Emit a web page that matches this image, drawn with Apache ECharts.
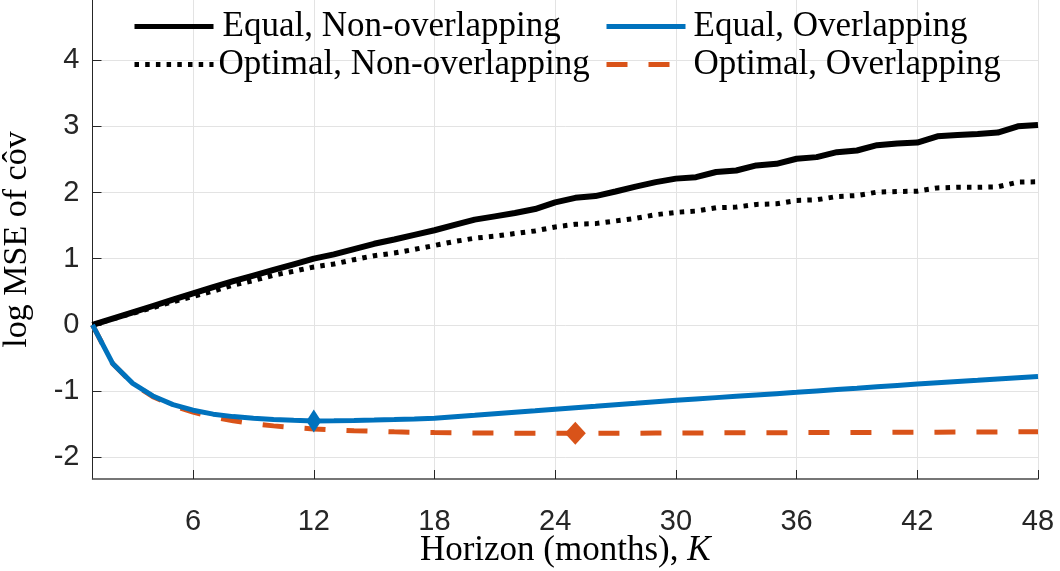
<!DOCTYPE html>
<html>
<head>
<meta charset="utf-8">
<script src="https://cdn.jsdelivr.net/npm/echarts@6/dist/echarts.min.js"></script>
<style>html,body{margin:0;padding:0;background:#fff;}#c{width:1060px;height:571px;}</style>
</head>
<body>
<div id="c"></div>
<script>
// ---- data ----
const horizons = [1,2,3,4,5,6,7,8,9,10,11,12,13,14,15,16,17,18,19,20,21,22,23,24,25,26,27,28,29,30,31,32,33,34,35,36,37,38,39,40,41,42,43,44,45,46,47,48];
const equalNonOverlap = [0,0.095,0.19,0.285,0.38,0.475,0.57,0.66,0.745,0.83,0.915,1.0,1.065,1.145,1.225,1.29,1.36,1.43,1.51,1.59,1.64,1.69,1.75,1.85,1.92,1.946,2.016,2.09,2.157,2.21,2.232,2.31,2.333,2.41,2.434,2.51,2.535,2.61,2.635,2.715,2.74,2.755,2.85,2.87,2.886,2.906,3.0,3.02];
const optimalNonOverlap = [0,0.09,0.175,0.26,0.35,0.43,0.51,0.6,0.67,0.75,0.81,0.875,0.92,0.985,1.045,1.085,1.14,1.2,1.26,1.31,1.34,1.38,1.42,1.48,1.52,1.53,1.57,1.61,1.665,1.70,1.72,1.77,1.78,1.82,1.83,1.88,1.89,1.94,1.955,2.006,2.016,2.02,2.07,2.08,2.08,2.087,2.157,2.163];
const equalOverlap = [0,-0.583,-0.885,-1.075,-1.206,-1.29,-1.35,-1.387,-1.41,-1.43,-1.443,-1.452,-1.45,-1.447,-1.44,-1.432,-1.422,-1.41,-1.388,-1.366,-1.343,-1.32,-1.298,-1.275,-1.252,-1.23,-1.207,-1.185,-1.162,-1.14,-1.12,-1.10,-1.08,-1.06,-1.04,-1.02,-0.999,-0.978,-0.958,-0.937,-0.916,-0.895,-0.876,-0.857,-0.838,-0.818,-0.799,-0.78];
const optimalOverlap = [0,-0.585,-0.89,-1.085,-1.22,-1.32,-1.395,-1.45,-1.495,-1.527,-1.553,-1.573,-1.588,-1.600,-1.609,-1.617,-1.623,-1.628,-1.631,-1.634,-1.636,-1.637,-1.638,-1.639,-1.640,-1.639,-1.638,-1.637,-1.636,-1.635,-1.634,-1.633,-1.632,-1.631,-1.630,-1.629,-1.628,-1.627,-1.626,-1.625,-1.624,-1.623,-1.622,-1.621,-1.620,-1.619,-1.617,-1.615];
const xTicks = [6,12,18,24,30,36,42,48];
const yTicks = [-2,-1,0,1,2,3,4];
const seriesNames = ['Equal, Non-overlapping','Optimal, Non-overlapping','Equal, Overlapping','Optimal, Overlapping'];

const pairs = (vals) => horizons.map((h, i) => [h, vals[i]]);
const serifFont = '"Liberation Serif", "DejaVu Serif", serif';
const sansFont = '"Liberation Sans", Arial, sans-serif';
const axisColor = '#262626';
const gridColor = '#e3e3e3';

function legendAt(name, left, top, textPad) {
  return {
    orient: 'horizontal', left: left, top: top, padding: 0,
    itemWidth: 79, itemHeight: 4, itemGap: 0,
    data: [name],
    itemStyle: {opacity: 0},
    lineStyle: {width: 5},
    textStyle: {fontFamily: serifFont, fontSize: 35, color: '#000', lineHeight: 30, padding: [0, 0, 0, textPad]}
  };
}

const chart = echarts.init(document.getElementById('c'), null, {renderer: 'canvas'});
chart.setOption({
  animation: false,
  backgroundColor: '#fff',
  grid: {left: 92.5, right: 22, top: 0, bottom: 92, containLabel: false, outerBoundsMode: 'none'},
  legend: [
    legendAt(seriesNames[0], 132, 9, 4),
    legendAt(seriesNames[1], 132, 47, 0),
    legendAt(seriesNames[2], 604, 9, 3),
    legendAt(seriesNames[3], 604, 47, 3)
  ],
  xAxis: {
    type: 'value', min: 1, max: 48,
    name: 'Horizon (months), {k|K}', nameLocation: 'middle', nameGap: 54, nameMoveOverlap: false,
    nameTextStyle: {fontFamily: serifFont, fontSize: 35, color: '#000',
      rich: {k: {fontFamily: serifFont, fontSize: 35, fontStyle: 'italic', color: '#000'}}},
    axisLine: {show: true, onZero: false, lineStyle: {color: '#4a4a4a', width: 1.5}},
    axisTick: {show: true, inside: true, length: 9, customValues: xTicks, lineStyle: {color: axisColor}},
    axisLabel: {customValues: xTicks, margin: 28, fontFamily: sansFont, fontSize: 29, color: axisColor},
    splitLine: {show: true, lineStyle: {color: gridColor, width: 1}}
  },
  yAxis: {
    type: 'value', min: -2.33, max: 4.91,
    name: 'log MSE of c\u00f4v', nameLocation: 'middle', nameGap: 58, nameMoveOverlap: false,
    nameTextStyle: {fontFamily: serifFont, fontSize: 34, color: '#000'},
    axisLine: {show: true, onZero: false, lineStyle: {color: axisColor, width: 1}},
    axisTick: {show: true, inside: true, length: 9, customValues: yTicks, lineStyle: {color: axisColor}},
    axisLabel: {customValues: yTicks, margin: 13, fontFamily: sansFont, fontSize: 29, color: axisColor},
    splitLine: {show: true, lineStyle: {color: gridColor, width: 1}}
  },
  series: [
    {
      name: seriesNames[0], type: 'line', data: pairs(equalNonOverlap), symbol: 'none',
      lineStyle: {color: '#000', width: 6}, itemStyle: {color: '#000'}, z: 3
    },
    {
      name: seriesNames[1], type: 'line', data: pairs(optimalNonOverlap), symbol: 'none',
      lineStyle: {color: '#000', width: 5, type: [4.5, 6.2]}, itemStyle: {color: '#000'}, z: 3
    },
    {
      name: seriesNames[3], type: 'line', data: pairs(optimalOverlap), symbol: 'none',
      lineStyle: {color: '#D95319', width: 5, type: [21, 21]}, itemStyle: {color: '#D95319'}, z: 2,
      markPoint: {
        symbol: 'diamond', symbolSize: [21, 23], label: {show: false},
        itemStyle: {color: '#D95319'},
        data: [{type: 'min', valueDim: 'y'}]
      }
    },
    {
      name: seriesNames[2], type: 'line', data: pairs(equalOverlap), symbol: 'none',
      lineStyle: {color: '#0072BD', width: 5}, itemStyle: {color: '#0072BD'}, z: 4,
      markPoint: {
        symbol: 'diamond', symbolSize: [15, 23], label: {show: false},
        itemStyle: {color: '#0072BD'},
        data: [{type: 'min', valueDim: 'y'}]
      }
    }
  ]
});
</script>
</body>
</html>
